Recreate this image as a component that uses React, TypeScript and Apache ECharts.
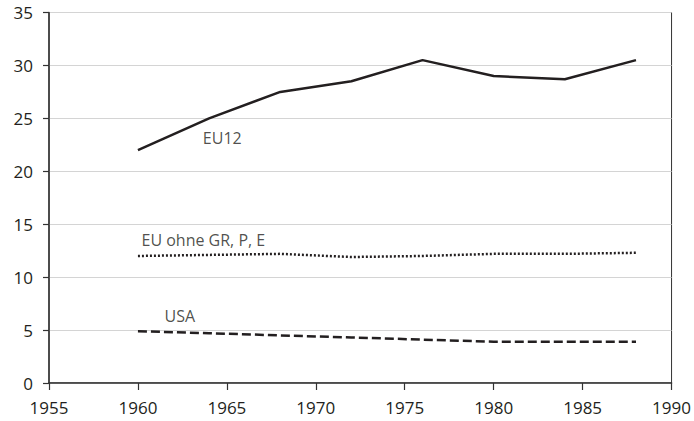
import React, { useEffect, useRef } from "react";
import * as echarts from "echarts";

const years = [1960, 1964, 1968, 1972, 1976, 1980, 1984, 1988];
const eu12 = [22.0, 25.0, 27.5, 28.5, 30.5, 29.0, 28.7, 30.5];
const euOhne = [12.0, 12.1, 12.2, 11.9, 12.0, 12.2, 12.2, 12.3];
const usa = [4.9, 4.7, 4.5, 4.3, 4.1, 3.9, 3.9, 3.9];

const labels = [
  { text: "EU12", x: 1963.65, y: 23.1 },
  { text: "EU ohne GR, P, E", x: 1960.2, y: 13.55 },
  { text: "USA", x: 1961.5, y: 6.35 },
];

const FONT = "'Open Sans', 'Noto Sans', sans-serif";
const INK = "#231f20";

export default function App() {
  const ref = useRef<HTMLDivElement>(null);
  useEffect(() => {
    if (!ref.current) return;
    const chart = echarts.init(ref.current, undefined, { renderer: "svg" });
    const mk = (vals: number[]) => years.map((y, i) => [y, vals[i]]);
    chart.setOption({
      animation: false,
      backgroundColor: "#ffffff",
      grid: {
        left: 49,
        right: 19,
        top: 12.5,
        bottom: 38,
        show: true,
        borderColor: "#333",
        borderWidth: 1,
        containLabel: false,
      },
      xAxis: {
        type: "value",
        min: 1955,
        max: 1990,
        interval: 5,
        axisLine: { show: true, lineStyle: { color: "#333", width: 1.5 } },
        axisTick: { show: true, length: 7, inside: false, lineStyle: { color: "#333", width: 1.2 } },
        axisLabel: {
          color: INK,
          fontSize: 17,
          fontFamily: FONT,
          margin: 16,
          formatter: (v: number) => String(v),
        },
        splitLine: { show: false },
      },
      yAxis: {
        type: "value",
        min: 0,
        max: 35,
        interval: 5,
        axisLine: { show: true, lineStyle: { color: "#333", width: 1.5 } },
        axisTick: { show: true, length: 6, inside: false, lineStyle: { color: "#333", width: 1.2 } },
        axisLabel: { color: INK, fontSize: 17, fontFamily: FONT, margin: 16 },
        splitLine: { show: true, lineStyle: { color: "#d4d4d4", width: 1 } },
      },
      series: [
        {
          type: "line",
          name: "EU12",
          data: mk(eu12),
          symbol: "none",
          lineStyle: { color: INK, width: 2.5, type: "solid" },
        },
        {
          type: "line",
          name: "EU ohne GR, P, E",
          data: mk(euOhne),
          symbol: "none",
          lineStyle: { color: INK, width: 2.5, type: [2, 2] },
        },
        {
          type: "line",
          name: "USA",
          data: mk(usa),
          symbol: "none",
          lineStyle: { color: INK, width: 2.5, type: [9, 4] },
        },
        {
          type: "scatter",
          data: labels.map((l) => [l.x, l.y, l.text]),
          symbolSize: 0,
          silent: true,
          label: {
            show: true,
            position: "right",
            distance: 0,
            formatter: (p: any) => p.value[2],
            color: INK,
            fontSize: 16,
            fontFamily: FONT,
          },
        },
      ],
    });
    return () => chart.dispose();
  }, []);
  return (
    <div
      ref={ref}
      style={{ position: "absolute", left: 0, top: 0, width: 694, height: 421 }}
    />
  );
}
